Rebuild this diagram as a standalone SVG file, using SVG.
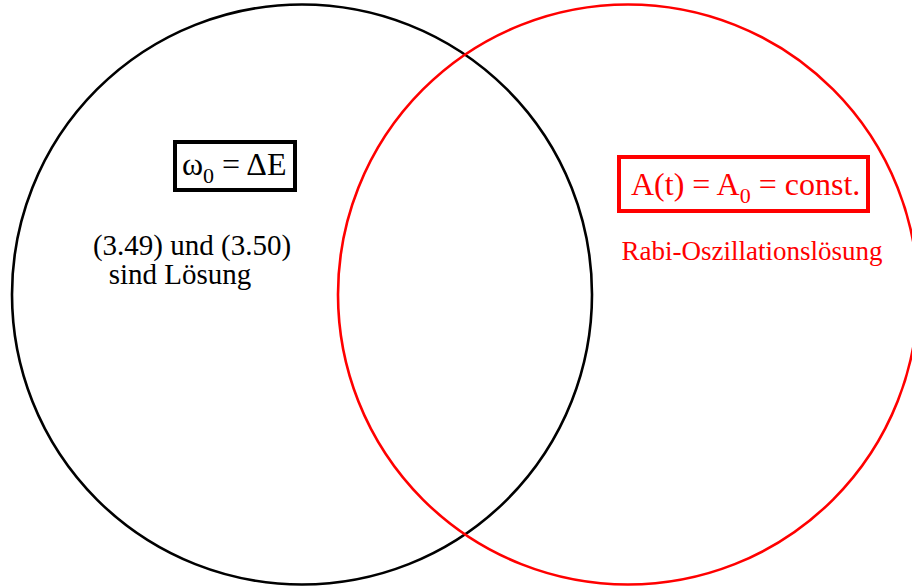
<svg xmlns="http://www.w3.org/2000/svg" width="912" height="587" viewBox="0 0 912 587">
<style>
.t{font-family:"Liberation Serif","Times New Roman",serif;}
.blk{fill:#000;}
.red{fill:#ff0000;}
</style>
<rect width="912" height="587" fill="#fff"/>
<g id="connectors"></g>
<g id="set-left">
<circle cx="302" cy="294.5" r="290" fill="none" stroke="#000" stroke-width="2.6"/>
</g>
<g id="set-right">
<circle cx="628" cy="294.5" r="290" fill="none" stroke="#ff0000" stroke-width="2.6"/>
</g>
<g id="box-left">
<rect x="175" y="142" width="120" height="48" fill="none" stroke="#000" stroke-width="4"/>
<text class="t blk" x="182" y="175" font-size="32">ω<tspan font-size="22" dy="8">0</tspan><tspan dy="-8"> = ΔE</tspan></text>
</g>
<g id="box-right">
<rect x="619" y="157" width="249" height="54" fill="none" stroke="#ff0000" stroke-width="4"/>
<text class="t red" x="631" y="195" font-size="32">A(t) = A<tspan font-size="22" dy="8">0</tspan><tspan dy="-8"> = const.</tspan></text>
</g>
<g id="label-left">
<text class="t blk" font-size="29" text-anchor="middle"><tspan x="192" y="255">(3.49) und (3.50)</tspan><tspan x="180" y="284">sind Lösung</tspan></text>
</g>
<g id="label-right">
<text class="t red" x="752" y="260" font-size="27" text-anchor="middle">Rabi-Oszillationslösung</text>
</g>
</svg>
